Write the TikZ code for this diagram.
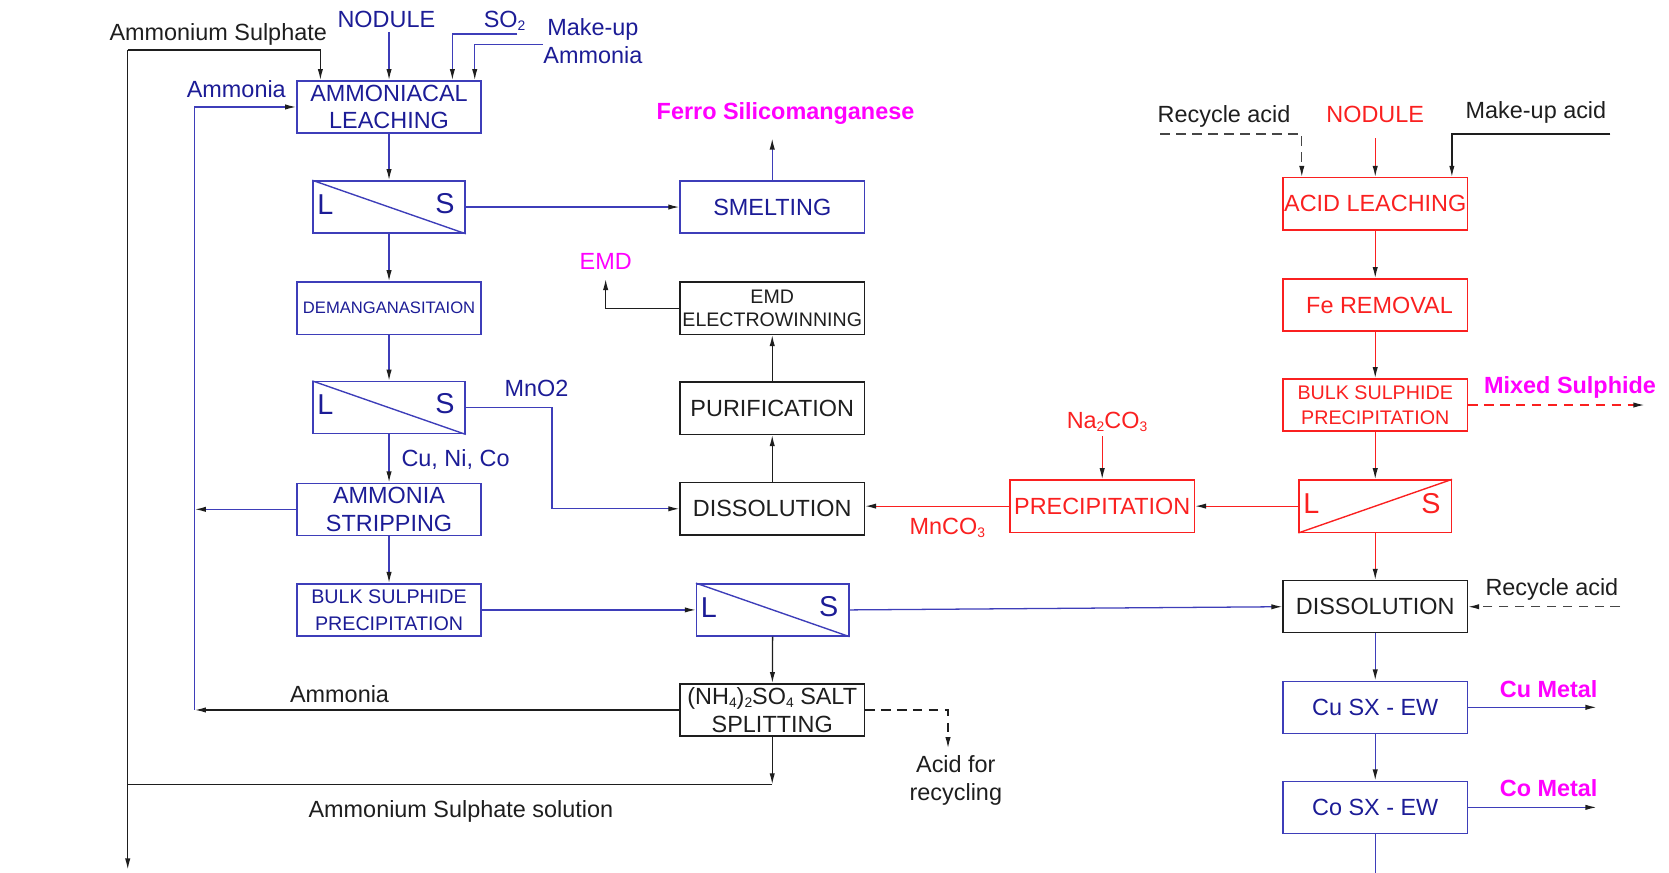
\documentclass[tikz,border=0pt]{standalone}
\usepackage{fontspec}
\setmainfont{Liberation Sans}
\usetikzlibrary{arrows.meta}

\definecolor{pblue}{RGB}{28,28,150}
\definecolor{lblue}{RGB}{62,62,185}
\definecolor{pred}{RGB}{250,32,32}
\definecolor{pmag}{RGB}{255,0,255}
\definecolor{pblk}{RGB}{30,30,30}
\definecolor{pgray}{RGB}{70,70,70}

% small lowered digit for chemical formulae
\newcommand\chsub[1]{\raisebox{-0.25ex}{\fontsize{13}{13}\selectfont #1}}

\begin{document}
\begin{tikzpicture}[x=1pt,y=-1pt,
  font=\fontsize{22}{26}\selectfont,
  box/.style={draw, rectangle, minimum width=173pt, minimum height=49pt,
    inner sep=0pt, align=center, line width=1.3pt},
  lsbox/.style={draw, rectangle, minimum width=143pt, minimum height=49pt,
    inner sep=0pt, line width=1.3pt},
  lsletter/.style={inner sep=0pt, font=\fontsize{27}{27}\selectfont},
  flow/.style={line width=1.2pt, -{Latex[length=10.5pt,width=5pt,color=pblk]}},
  plain/.style={line width=1.2pt},
  dashline/.style={dash pattern=on 9pt off 6pt},
  lbl/.style={inner sep=0pt, text height=15.8pt, text depth=0pt},
  mlbl/.style={inner sep=0pt, align=center},
  prod/.style={lbl, text=pmag, font=\fontsize{22}{26}\selectfont\bfseries},
  ]
\useasboundingbox (0,0) rectangle (1568,820);

% ---------- ammoniacal route (left) ----------
\node[box, draw=lblue, text=pblue] (leach) at (365.5,100.5) {AMMONIACAL\\LEACHING};
\node[lsbox, draw=lblue] (ls1) at (365.5,194.5) {};
\node[box, draw=lblue, text=pblue, font=\fontsize{15.6}{18}\selectfont] (deman) at (365.5,289.5) {DEMANGANASITAION};
\node[lsbox, draw=lblue] (ls2) at (365.5,383) {};
\node[box, draw=lblue, text=pblue] (strip) at (365.5,478.5) {AMMONIA\\STRIPPING};
\node[box, draw=lblue, text=pblue, font=\fontsize{18.5}{25}\selectfont] (bulk1) at (365.5,573) {BULK SULPHIDE\\PRECIPITATION};

% ---------- manganese route (middle) ----------
\node[box, draw=lblue, text=pblue] (smelt) at (725.5,194.5) {SMELTING};
\node[box, draw=pblk, text=pblk, font=\fontsize{18.4}{22}\selectfont] (emd) at (725.5,289.5) {EMD\\ELECTROWINNING};
\node[box, draw=pblk, text=pblk] (purif) at (725.5,383.5) {PURIFICATION};
\node[box, draw=pblk, text=pblk] (diss1) at (725.5,478) {DISSOLUTION};
\node[lsbox, draw=lblue] (ls3) at (726,573) {};
\node[box, draw=pblk, text=pblk] (salt) at (725.5,667) {(NH\chsub{4})\chsub{2}SO\chsub{4} SALT\\SPLITTING};

% ---------- acid route (right) ----------
\node[box, draw=pred, text=pred] (acid) at (1292,191.5) {ACID LEACHING};
\node[box, draw=pred, text=pred] (fe) at (1292,286.5) {\hspace*{8pt}Fe REMOVAL};
\node[box, draw=pred, text=pred, font=\fontsize{18.5}{24}\selectfont] (bulk2) at (1292,380.5) {BULK SULPHIDE\\PRECIPITATION};
\node[lsbox, draw=pred] (ls4) at (1292,475.5) {};
\node[box, draw=pblk, text=pblk] (diss2) at (1292,570) {DISSOLUTION};
\node[box, draw=lblue, text=pblue] (cu) at (1292,664.5) {Cu SX - EW};
\node[box, draw=lblue, text=pblue] (co) at (1292,758.5) {Co SX - EW};
\node[box, draw=pred, text=pred] (precip) at (1035.5,475.5) {PRECIPITATION};

% ---------- L / S separators ----------
\foreach \s in {ls1,ls2,ls3}{
  \draw[lblue, line width=1.3pt] (\s.north west) -- (\s.south east);
  \node[lsletter, text=pblue, anchor=west] at ([xshift=4.5pt,yshift=2.5pt]\s.west) {L};
  \node[lsletter, text=pblue, anchor=east] at ([xshift=-10.5pt,yshift=3.5pt]\s.east) {S};
}
\draw[pred, line width=1.3pt] (ls4.south west) -- (ls4.north east);
\node[lsletter, text=pred, anchor=west] at ([xshift=4.5pt,yshift=2.5pt]ls4.west) {L};
\node[lsletter, text=pred, anchor=east] at ([xshift=-10.5pt,yshift=2.5pt]ls4.east) {S};

% ---------- feed labels and free ends ----------
\node[lbl, text=pblk] (lamsul) at (205,30) {Ammonium Sulphate};
\node[lbl, text=pblue] (lnod1) at (363,18) {NODULE};
\node[lbl, text=pblue] (lso2) at (474,18) {SO\chsub{2}};
\node[mlbl, text=pblue] (lmua) at (557,38.5) {Make-up\\Ammonia};
\node[lbl, text=pblue] (lamm1) at (222,84) {Ammonia};
\node[prod] (lferro) at (738,104) {Ferro Silicomanganese};
\node[lbl, text=pmag] (lemd) at (569,245) {EMD};
\node[lbl, text=pblue] (lmno2) at (504,365) {MnO2};
\node[lbl, text=pblue] (lcuni) at (428,430) {Cu, Ni, Co};
\node[lbl, text=pblk] (lamm2) at (319,652) {Ammonia};
\node[lbl, text=pblk] (lassol) at (433,760) {Ammonium Sulphate solution};
\node[mlbl, text=pblk] (lacid) at (898,733) {Acid for\\recycling};
\node[lbl, text=pblk] (lrec1) at (1150,107) {Recycle acid};
\node[lbl, text=pred] (lnod2) at (1292,107) {NODULE};
\node[lbl, text=pblk] (lmuacid) at (1443,103) {Make-up acid};
\node[prod] (lmixed) at (1475,362) {Mixed Sulphide};
\node[lbl, text=pred] (lna) at (1040,395) {Na\chsub{2}CO\chsub{3}};
\node[lbl, text=pred] (lmnco) at (890,494) {MnCO\chsub{3}};
\node[lbl, text=pblk] (lrec2) at (1458,552) {Recycle acid};
\node[prod] (lcu) at (1455,647) {Cu Metal};
\node[prod] (lco) at (1455,740) {Co Metal};

\coordinate (asl) at (120,47);
\coordinate (asdown) at (120,817);
\coordinate (nod1) at (365.5,30);
\coordinate (so2) at (486,32);
\coordinate (mua) at (510,42);
\coordinate (coltop) at (183,100.5);
\coordinate (colbot) at (183,667);
\coordinate (ferro) at (725.5,130);
\coordinate (emdout) at (569,262);
\coordinate (assol) at (725.5,737);
\coordinate (rec1) at (1090,126);
\coordinate (nod2) at (1292,130);
\coordinate (muacid) at (1513,126);
\coordinate (mixed) at (1545,380.5);
\coordinate (na) at (1035.5,410);
\coordinate (rec2) at (1522,570);
\coordinate (cumetal) at (1500,664.5);
\coordinate (cometal) at (1500,758.5);

% ---------- connectors: ammoniacal route ----------
\draw[flow, pblk] (asl) -- (asdown);
\draw[flow, pblk] (asl) -| ([xshift=-64.5pt]leach.north);
\draw[flow, lblue] (nod1) -- (leach.north);
\draw[flow, lblue] (so2) -| ([xshift=59.5pt]leach.north);
\draw[flow, lblue] (mua) -| ([xshift=80.5pt]leach.north);
\draw[flow, lblue] (colbot) -- (coltop) -- (leach.west);
\draw[flow, lblue] (leach) -- (ls1);
\draw[flow, lblue] (ls1) -- (deman);
\draw[flow, lblue] (deman) -- (ls2);
\draw[flow, lblue] (ls2) -- (strip);
\draw[flow, lblue] (strip) -- (bulk1);
\draw[flow, lblue] (strip.west) -- (strip.west -| colbot);
\draw[flow, lblue] (ls1.east) -- (smelt.west);
\draw[flow, lblue] (smelt.north) -- (ferro);
\draw[flow, lblue] (ls2.east) -- ++(81,0) |- (diss1.west);
\draw[flow, lblue] (bulk1.east) -- (ls3.west);
\draw[flow, lblue] (ls3.east) -- (diss2.west);
\draw[flow, pblk] (ls3) -- (salt);
\draw[flow, pblk] (salt.west) -- (colbot);
\draw[flow, pblk] (salt.south) -- (assol);
\draw[plain, pblk] (assol) -- (assol -| asl);
\draw[flow, pblk, dashline] (salt.east) -- ++(78,0) -- ++(0,36);

% ---------- connectors: manganese route ----------
\draw[flow, pblk] (emd.west) -| (emdout);
\draw[flow, pblk] (purif) -- (emd);
\draw[flow, pblk] (diss1) -- (purif);
\draw[flow, pred] (precip.west) -- (precip.west -| diss1.east);
\draw[flow, pred] (na) -- (precip.north);
\draw[flow, pred] (ls4.west) -- (precip.east);

% ---------- connectors: acid route ----------
\draw[flow, pgray, dashline] (rec1) -| ([xshift=-69pt]acid.north);
\draw[flow, pred] (nod2) -- (acid.north);
\draw[flow, pblk] (muacid) -| ([xshift=72pt]acid.north);
\draw[flow, pred] (acid) -- (fe);
\draw[flow, pred] (fe) -- (bulk2);
\draw[flow, pred] (bulk2) -- (ls4);
\draw[flow, pred] (ls4) -- (diss2);
\draw[flow, pred, dashline] (bulk2.east) -- (mixed);
\draw[flow, pgray, dashline] (rec2) -- (diss2.east);
\draw[flow, lblue] (diss2) -- (cu);
\draw[flow, lblue] (cu) -- (co);
\draw[plain, lblue] (co.south) -- ++(0,40);
\draw[flow, lblue] (cu.east) -- (cumetal);
\draw[flow, lblue] (co.east) -- (cometal);
\end{tikzpicture}
\end{document}
